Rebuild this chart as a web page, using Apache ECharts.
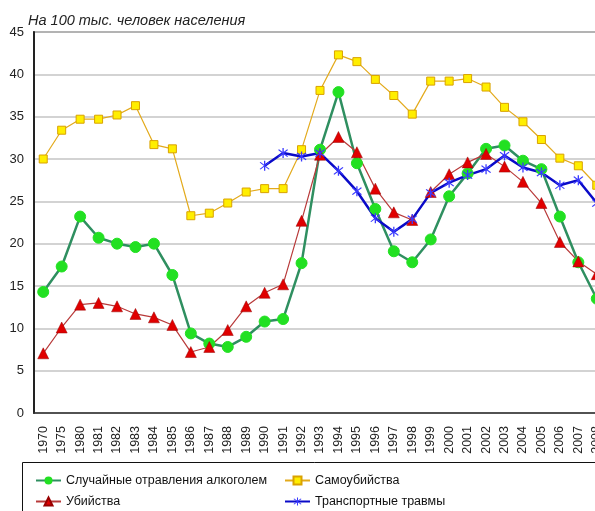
<!DOCTYPE html>
<html><head><meta charset="utf-8">
<script src="https://cdn.jsdelivr.net/npm/echarts@6/dist/echarts.min.js"></script>
<style>html,body{margin:0;padding:0;background:#fff;overflow:hidden}#c{width:606px;height:511px}</style>
</head><body><div id="c"></div>
<script>
var years = ['1970','1975','1980','1981','1982','1983','1984','1985','1986','1987','1988','1989','1990','1991','1992','1993','1994','1995','1996','1997','1998','1999','2000','2001','2002','2003','2004','2005','2006','2007','2008'];
var alcohol = [14.3,17.3,23.2,20.7,20.0,19.6,20.0,16.3,9.4,8.2,7.8,9.0,10.8,11.1,17.7,31.1,37.9,29.5,24.1,19.1,17.8,20.5,25.6,28.3,31.2,31.6,29.8,28.8,23.2,17.8,13.5];
var suicide = [30.0,33.4,34.7,34.7,35.2,36.3,31.7,31.2,23.3,23.6,24.8,26.1,26.5,26.5,31.1,38.1,42.3,41.5,39.4,37.5,35.3,39.2,39.2,39.5,38.5,36.1,34.4,32.3,30.1,29.2,26.9];
var murder = [7.05,10.1,12.8,13.0,12.6,11.7,11.3,10.4,7.2,7.8,9.8,12.6,14.2,15.2,22.7,30.5,32.6,30.8,26.5,23.7,22.8,26.1,28.2,29.6,30.6,29.1,27.3,24.8,20.2,17.9,16.4];
var transport = [null,null,null,null,null,null,null,null,null,null,null,null,29.2,30.7,30.3,30.7,28.6,26.2,23.0,21.4,22.9,26.0,27.2,28.1,28.8,30.4,29.0,28.4,26.9,27.5,24.8];
var names = ['Случайные отравления алкоголем','Самоубийства','Убийства','Транспортные травмы'];
var yTitle = 'На 100 тыс. человек населения';

var star = 'path://M-1,-10L1,-10L1,10L-1,10Z M-6.3,-7.7L7.7,6.3L6.3,7.7L-7.7,-6.3Z M7.7,-6.3L-6.3,7.7L-7.7,6.3L6.3,-7.7Z';
var font = 'Liberation Sans, Arial, sans-serif';
var chart = echarts.init(document.getElementById('c'));
chart.setOption({
  animation: false,
  title: {text: yTitle, left: 23, top: 8, textStyle: {fontFamily: font, fontSize: 14.5, fontWeight: 'normal', fontStyle: 'italic', color: '#222'}},
  grid: {left: 34, right: 0, top: 32, bottom: 98, show: true, borderColor: '#555', borderWidth: 1.5},
  xAxis: {type: 'category', data: years, boundaryGap: true,
    axisLine: {lineStyle: {color: '#333', width: 1.5}}, axisTick: {show: false},
    axisLabel: {rotate: 90, interval: 0, fontFamily: font, fontSize: 12.5, color: '#222', margin: 13}},
  yAxis: {type: 'value', min: 0, max: 45, interval: 5,
    axisLine: {show: true, lineStyle: {color: '#222', width: 2}}, axisTick: {show: false},
    splitLine: {lineStyle: {color: '#c4c4c4', width: 1.5}},
    axisLabel: {fontFamily: font, fontSize: 13, color: '#222', margin: 10}},
  legend: [
    {data: [names[0], names[2]], orient: 'vertical', left: 35, top: 474, height: 60, width: 240, padding: 0, itemGap: 8, itemWidth: 25, itemHeight: 10,
     textStyle: {fontFamily: font, fontSize: 12.5, color: '#111'}},
    {data: [names[1], names[3]], orient: 'vertical', left: 284, top: 474, height: 60, width: 240, padding: 0, itemGap: 8, itemWidth: 25, itemHeight: 10,
     textStyle: {fontFamily: font, fontSize: 12.5, color: '#111'}}
  ],
  graphic: [{type: 'rect', shape: {x: 22.5, y: 462.5, width: 600, height: 60}, style: {fill: 'none', stroke: '#111', lineWidth: 1}, silent: true}],
  series: [
    {name: names[0], type: 'line', data: alcohol, symbol: 'circle', symbolSize: 11,
     lineStyle: {color: '#2f8f60', width: 2.5}, itemStyle: {color: '#22e022', borderColor: '#22e022'}},
    {name: names[1], type: 'line', data: suicide, symbol: 'rect', symbolSize: 8,
     lineStyle: {color: '#e3aa1c', width: 1.2}, itemStyle: {color: '#ffee00', borderColor: '#d9a200', borderWidth: 1}},
    {name: names[2], type: 'line', data: murder, symbol: 'triangle', symbolSize: 11,
     lineStyle: {color: '#b83a3a', width: 1.2}, itemStyle: {color: '#e00000', borderColor: '#900', borderWidth: 0.5}},
    {name: names[3], type: 'line', data: transport, symbol: star, symbolSize: 10, connectNulls: false,
     lineStyle: {color: '#0a0ac8', width: 2.5}, itemStyle: {color: '#3a3aff'}}
  ]
});
</script></body></html>
